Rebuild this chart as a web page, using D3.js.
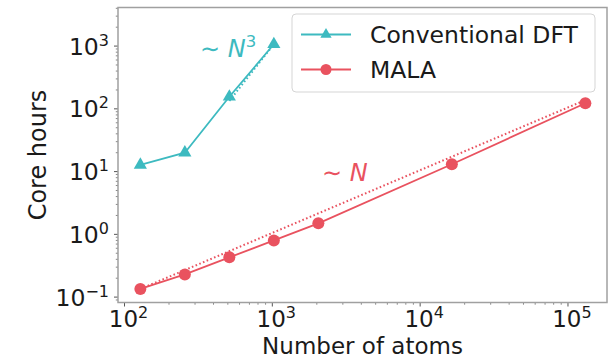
<!DOCTYPE html>
<html><head><meta charset="utf-8">
<script src="https://cdn.jsdelivr.net/npm/d3@7"></script>
<style>body{margin:0;background:#fff}svg{display:block}text{font-family:"DejaVu Sans",sans-serif}</style>
</head><body><svg id="c" width="611" height="359"></svg>
<script>
const dftAtoms = [128, 256, 512, 1024];
const dftHours = [12.8, 20, 156, 1070];
const malaAtoms = [128, 256, 512, 1024, 2048, 16384, 131072];
const malaHours = [0.135, 0.23, 0.43, 0.80, 1.5, 13.1, 123];
const cubicRef = {atoms: [512, 1024], hours: [134, 1070]};
const linearRef = {atoms: [128, 131072], hours: [0.135, 138]};
const xTickExps = [2, 3, 4, 5];
const yTickExps = [-1, 0, 1, 2, 3];
const seriesNames = ["Conventional DFT", "MALA"];
const teal = "#3dbac0", red = "#e9525f";

const svg = d3.select("#c");
const L = 118, R = 607, T = 7.5, B = 302.5;
const x = d3.scaleLog().domain([Math.pow(10, 1.956), Math.pow(10, 5.264)]).range([L, R]);
const y = d3.scaleLog().domain([Math.pow(10, -1.086), Math.pow(10, 3.615)]).range([B, T]);

// minor + major ticks
const g = svg.append("g");
function minorVals(lo, hi) {
  const v = [];
  for (let e = lo; e <= hi; e++) for (let k = 1; k <= 9; k++) v.push(k * Math.pow(10, e));
  return v;
}
minorVals(1, 5).filter(v => v >= x.domain()[0] && v <= x.domain()[1]).forEach(v => {
  const major = Math.abs(Math.log10(v) - Math.round(Math.log10(v))) < 1e-9;
  g.append("line").attr("x1", x(v)).attr("x2", x(v)).attr("y1", B).attr("y2", B + (major ? 4 : 2.2))
    .attr("stroke", "#555").attr("stroke-width", major ? 1 : 0.7);
});
minorVals(-2, 3).filter(v => v >= y.domain()[0] && v <= y.domain()[1]).forEach(v => {
  const major = Math.abs(Math.log10(v) - Math.round(Math.log10(v))) < 1e-9;
  g.append("line").attr("y1", y(v)).attr("y2", y(v)).attr("x1", L).attr("x2", L - (major ? 4 : 2.2))
    .attr("stroke", "#555").attr("stroke-width", major ? 1 : 0.7);
});

// spines
svg.append("rect").attr("x", L).attr("y", T).attr("width", R - L).attr("height", B - T)
  .attr("fill", "none").attr("stroke", "#a0a0a0").attr("stroke-width", 1.5);

// tick labels
function sup(sel, e) {
  sel.append("tspan").text("10");
  sel.append("tspan").attr("dy", -9).attr("font-size", 16).text(e < 0 ? "\u2212" + (-e) : String(e));
}
xTickExps.forEach(e => {
  const t = svg.append("text").attr("x", x(Math.pow(10, e)) + 4).attr("y", 326.5)
    .attr("text-anchor", "middle").attr("font-size", 23).attr("fill", "#1a1a1a");
  sup(t, e);
});
yTickExps.forEach(e => {
  const t = svg.append("text").attr("x", 109).attr("y", y(Math.pow(10, e)) + 8.5)
    .attr("text-anchor", "end").attr("font-size", 23.5).attr("fill", "#1a1a1a");
  sup(t, e);
});

// axis labels
svg.append("text").attr("x", (L + R) / 2).attr("y", 353.5).attr("text-anchor", "middle")
  .attr("font-size", 23).attr("fill", "#1a1a1a").text("Number of atoms");
svg.append("text").attr("transform", `translate(46,${(T + B) / 2}) rotate(-90)`).attr("text-anchor", "middle")
  .attr("font-size", 24).attr("fill", "#1a1a1a").text("Core hours");

const line = d3.line().x(d => x(d[0])).y(d => y(d[1]));
const dft = dftAtoms.map((a, i) => [a, dftHours[i]]);
const mala = malaAtoms.map((a, i) => [a, malaHours[i]]);
const cub = cubicRef.atoms.map((a, i) => [a, cubicRef.hours[i]]);
const lin = linearRef.atoms.map((a, i) => [a, linearRef.hours[i]]);

// reference lines
svg.append("path").attr("d", line(cub)).attr("fill", "none").attr("stroke", teal)
  .attr("stroke-width", 2).attr("stroke-dasharray", "1.6,2.4");
svg.append("path").attr("d", line(lin)).attr("fill", "none").attr("stroke", red)
  .attr("stroke-width", 2).attr("stroke-dasharray", "1.6,2.4");

// series
svg.append("path").attr("d", line(dft)).attr("fill", "none").attr("stroke", teal).attr("stroke-width", 1.8);
svg.append("path").attr("d", line(mala)).attr("fill", "none").attr("stroke", red).attr("stroke-width", 1.8);
const tri = d3.symbol().type(d3.symbolTriangle).size(75);
svg.selectAll(".tri").data(dft).enter().append("path")
  .attr("d", tri).attr("transform", d => `translate(${x(d[0])},${y(d[1])})`).attr("fill", teal);
svg.selectAll(".dot").data(mala).enter().append("circle")
  .attr("cx", d => x(d[0])).attr("cy", d => y(d[1])).attr("r", 6).attr("fill", red);

// annotations
const a1 = svg.append("text").attr("x", 200).attr("y", 56.5).attr("font-size", 24).attr("fill", teal);
a1.append("tspan").text("\u223C ");
a1.append("tspan").attr("font-style", "italic").text("N");
a1.append("tspan").attr("dy", -10).attr("font-size", 16.5).text("3");
const a2 = svg.append("text").attr("x", 322).attr("y", 181).attr("font-size", 24).attr("fill", red);
a2.append("tspan").text("\u223C ");
a2.append("tspan").attr("font-style", "italic").text("N");

// legend
const lg = svg.append("g");
lg.append("rect").attr("x", 292).attr("y", 14).attr("width", 303).attr("height", 78).attr("rx", 4)
  .attr("fill", "#fff").attr("fill-opacity", 0.85).attr("stroke", "#d5d5d5").attr("stroke-width", 1);
const rows = [{name: seriesNames[0], c: teal, m: "tri", yy: 34.5}, {name: seriesNames[1], c: red, m: "dot", yy: 69.5}];
rows.forEach(r => {
  lg.append("line").attr("x1", 301).attr("x2", 351).attr("y1", r.yy).attr("y2", r.yy).attr("stroke", r.c).attr("stroke-width", 1.8);
  if (r.m === "tri") lg.append("path").attr("d", d3.symbol().type(d3.symbolTriangle).size(55)).attr("transform", `translate(326,${r.yy})`).attr("fill", r.c);
  else lg.append("circle").attr("cx", 326).attr("cy", r.yy).attr("r", 5.5).attr("fill", r.c);
  lg.append("text").attr("x", 370).attr("y", r.yy + 8.5).attr("font-size", 23.5).attr("fill", "#1a1a1a").text(r.name);
});
</script></body></html>
